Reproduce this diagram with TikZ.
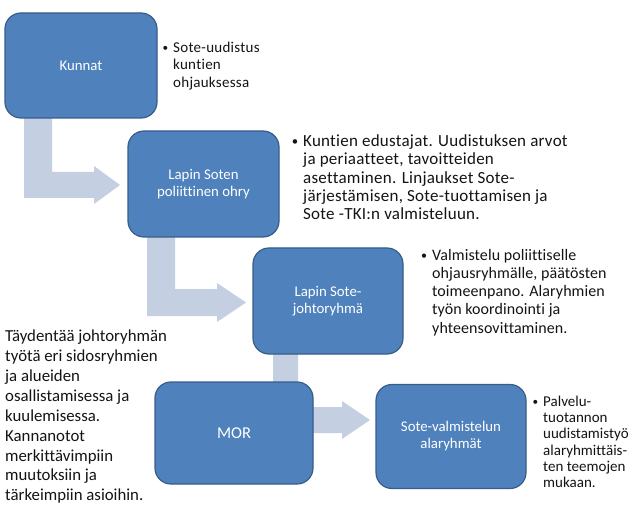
\documentclass[tikz,border=0pt]{standalone}
\usepackage{fontspec}
\usepackage{graphicx}
\setmainfont{Carlito}[Ligatures=NoCommon]
\usetikzlibrary{backgrounds}
\definecolor{boxfill}{RGB}{79,129,189}
\definecolor{boxline}{RGB}{56,93,138}
\definecolor{arrowfill}{RGB}{197,207,226}
\definecolor{desctext}{RGB}{20,20,20}
\newcommand\mybul{\llap{\raisebox{0.05em}{\scalebox{0.75}{•}}\hspace{5pt}}}
\begin{document}
\begin{tikzpicture}[x=1pt,y=-1pt,
  box/.style={draw=boxline, line width=1.2pt, fill=boxfill, rounded corners=16pt,
    text=white, align=center, inner sep=0pt, font=\fontsize{14.8}{17}\selectfont},
  desc/.style={anchor=north west, align=left, inner sep=0pt, text=desctext},
  blockarrow/.style={fill=arrowfill, draw=none}]
\useasboundingbox (0,0) rectangle (638,516);
% boxes
\node[box, minimum width=152pt, minimum height=105pt] (kunnat) at (81,65.5) {Kunnat};
\node[box, minimum width=151pt, minimum height=106pt] (ohry) at (203.5,184) {Lapin Soten\\poliittinen ohry};
\node[box, minimum width=150pt, minimum height=106pt] (johto) at (328,301) {Lapin Sote-\\johtoryhmä};
\node[box, minimum width=158pt, minimum height=102pt, font=\fontsize{16.5}{19}\selectfont] (mor) at (234,433) {MOR};
\node[box, minimum width=150pt, minimum height=104pt] (ala) at (451,436.5) {Sote-valmistelun\\alaryhmät};
% bent block arrows
\begin{scope}[on background layer]
\fill[white] (0,0) rectangle (638,516);
\fill[blockarrow] (24,110) -- (52,110) -- (52,172) -- (94,172) -- (94,166) -- (120,185) -- (94,204) -- (94,198) -- (24,198) -- cycle;
\fill[blockarrow] (147,230) -- (175,230) -- (175,289) -- (217,289) -- (217,283) -- (246,302.5) -- (217,322) -- (217,316) -- (147,316) -- cycle;
\fill[blockarrow] (273,350) -- (298,350) -- (298,407) -- (342,407) -- (342,401) -- (370,420) -- (342,439) -- (342,433) -- (273,433) -- cycle;
\end{scope}
% descriptions
\node[desc, font=\fontsize{15}{17.7}\selectfont\addfontfeatures{LetterSpace=1.8}] (d1) at (173,39.5)
  {\strut\mybul Sote-uudistus\\kuntien\\ohjauksessa};
\node[desc, font=\fontsize{17}{18.3}\selectfont\addfontfeatures{LetterSpace=1.5}] (d2) at (303,133.5)
  {\strut\mybul Kuntien edustajat. Uudistuksen arvot\\ja periaatteet, tavoitteiden\\asettaminen. Linjaukset Sote-\\järjestämisen, Sote-tuottamisen ja\\Sote -TKI:n valmisteluun.};
\node[desc, font=\fontsize{16}{18.3}\selectfont\addfontfeatures{LetterSpace=0.5}] (d3) at (432,247)
  {\strut\mybul Valmistelu poliittiselle\\ohjausryhmälle, päätösten\\toimeenpano. Alaryhmien\\työn koordinointi ja\\yhteensovittaminen.};
\node[desc, font=\fontsize{15}{16.2}\selectfont] (d5) at (543,395)
  {\strut\mybul Palvelu-\\tuotannon\\uudistamistyö\\alaryhmittäis-\\ten teemojen\\mukaan.};
\node[desc, font=\fontsize{16.8}{19.9}\selectfont] (d4) at (5,327.5)
  {\strut Täydentää johtoryhmän\\työtä eri sidosryhmien\\ja alueiden\\osallistamisessa ja\\kuulemisessa.\\Kannanotot\\merkittävimpiin\\muutoksiin ja\\tärkeimpiin asioihin.};
\end{tikzpicture}
\end{document}
